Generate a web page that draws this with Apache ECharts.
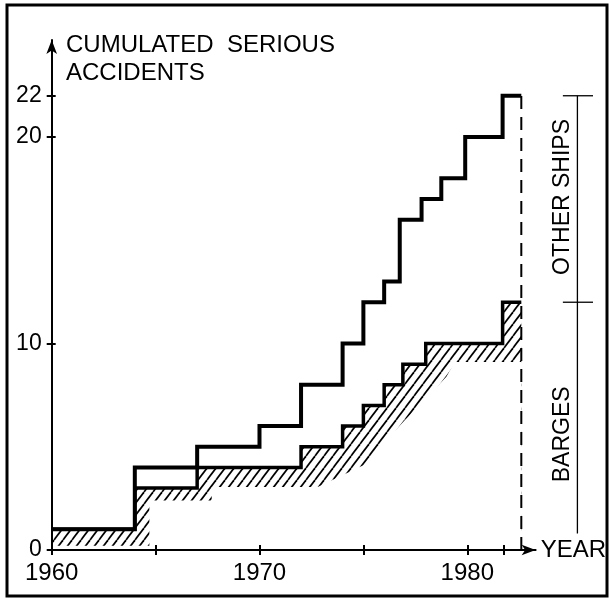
<!DOCTYPE html>
<html><head><meta charset="utf-8">
<script src="https://cdn.jsdelivr.net/npm/echarts@6/dist/echarts.min.js"></script>
<style>html,body{margin:0;padding:0;background:#fff}#c{width:609px;height:599px}</style>
</head><body><div id="c"></div>
<script>
// ---- data ----
const totalYears  = [1960, 1964, 1967, 1970, 1972, 1974, 1975, 1976, 1976.75, 1977.8, 1978.75, 1979.9, 1981.7, 1982.6];
const totalValues = [1, 4, 5, 6, 8, 10, 12, 13, 16, 17, 18, 20, 22, 22];
const bargeYears  = [1960, 1964, 1967, 1972, 1974, 1975, 1976, 1976.9, 1978, 1981.7, 1982.6];
const bargeValues = [1, 3, 4, 5, 6, 7, 8, 9, 10, 12, 12];
// lower edge of the hatched band under the barges line
const hatchLowerYears  = [1960, 1964.7, 1964.7, 1967.7, 1967.7, 1972.8, 1975, 1976, 1977, 1978, 1979, 1979.4, 1982.6];
const hatchLowerValues = [0.2, 0.2, 2.4, 2.4, 3.05, 3.05, 4.1, 5.2, 6.3, 7.3, 8.4, 9.1, 9.1];
const xTickValues  = [1960, 1965, 1970, 1975, 1980, 1981.75];
const xLabelValues = [1960, 1970, 1980];
const yTickValues  = [0, 10, 20, 22];
const endYear = 1982.6;          // dashed vertical line
const otherShipsRange = [12, 22];
const bargesRange = [0.8, 12];
const bracketLabels = ['OTHER SHIPS', 'BARGES'];

// ---- layout ----
const X_MIN = 1960, X_MAX = 1983.29, Y_MAX = 24.7;
const BRACKET_X = 1985.3, BRACKET_T0 = 1984.6, BRACKET_T1 = 1986.05, LABEL_X = 1984.6;
const FONT = "'Liberation Sans', Arial, Helvetica, sans-serif";

const pair = (xs, ys) => xs.map((x, i) => [x, ys[i]]);

// hatch pattern
const pc = document.createElement('canvas');
pc.width = 9; pc.height = 12;
const g = pc.getContext('2d');
g.strokeStyle = '#000'; g.lineWidth = 1.7;
for (let k = -1; k <= 1; k++) {
  g.beginPath(); g.moveTo(k * 9, 12); g.lineTo(k * 9 + 9, 0); g.stroke();
}

const chart = echarts.init(document.getElementById('c'));
const axisCommon = (inside) => ({
  type: 'value', z: 6,
  splitLine: { show: false },
  axisTick: { show: true, inside: inside, length: 5, lineStyle: { color: '#000', width: 2 } },
});

const option = {
  animation: false,
  backgroundColor: '#fff',
  title: {
    text: 'CUMULATED  SERIOUS\nACCIDENTS', left: 61, top: 26,
    textStyle: { fontSize: 24, fontWeight: 'normal', color: '#000', lineHeight: 28, fontFamily: FONT }
  },
  grid: { left: 51.7, right: 71, top: 40, bottom: 49 },
  xAxis: [
    Object.assign(axisCommon(false), {
      min: X_MIN, max: X_MAX, position: 'bottom',
      axisLine: { show: true, onZero: false, symbol: ['none', 'arrow'], symbolSize: [8, 14], lineStyle: { color: '#000', width: 2 } },
      axisTick: { show: true, customValues: xTickValues, length: 5, lineStyle: { color: '#000', width: 2 } },
      axisLabel: { customValues: xLabelValues, formatter: v => String(v), fontSize: 24, color: '#000', margin: 11, fontFamily: FONT },
      name: 'YEAR', nameLocation: 'end', nameGap: 5,
      nameTextStyle: { fontSize: 24, color: '#000', fontFamily: FONT, align: 'left', verticalAlign: 'middle' }
    }),
    Object.assign(axisCommon(true), {
      min: X_MIN, max: X_MAX, position: 'bottom',
      axisLine: { show: false },
      axisTick: { show: true, inside: true, customValues: xTickValues, length: 5, lineStyle: { color: '#000', width: 2 } },
      axisLabel: { show: false }
    })
  ],
  yAxis: [
    Object.assign(axisCommon(false), {
      min: 0, max: Y_MAX, position: 'left',
      axisLine: { show: true, onZero: false, symbol: ['none', 'arrow'], symbolSize: [8, 14], lineStyle: { color: '#000', width: 2 } },
      axisTick: { show: true, customValues: yTickValues, length: 5, lineStyle: { color: '#000', width: 2 } },
      axisLabel: { customValues: yTickValues, formatter: v => String(v), fontSize: 23, color: '#000', margin: 10, fontFamily: FONT }
    }),
    Object.assign(axisCommon(true), {
      min: 0, max: Y_MAX, position: 'left',
      axisLine: { show: false },
      axisTick: { show: true, inside: true, customValues: yTickValues, length: 4, lineStyle: { color: '#000', width: 2 } },
      axisLabel: { show: false }
    })
  ],
  series: [
    { name: 'hatch', type: 'line', step: 'end', data: pair(bargeYears, bargeValues), symbol: 'none', z: 1,
      lineStyle: { width: 0, opacity: 0 }, areaStyle: { color: { image: pc, repeat: 'repeat' }, opacity: 1 }, silent: true },
    { name: 'cover', type: 'line', data: pair(hatchLowerYears, hatchLowerValues), symbol: 'none', z: 2,
      lineStyle: { width: 0, opacity: 0 }, areaStyle: { color: '#fff', opacity: 1 }, silent: true },
    { name: 'Barges', type: 'line', step: 'end', data: pair(bargeYears, bargeValues), symbol: 'none', z: 3,
      lineStyle: { color: '#000', width: 3.5, join: 'miter' } },
    { name: 'All ships', type: 'line', step: 'end', data: pair(totalYears, totalValues), symbol: 'none', z: 4,
      lineStyle: { color: '#000', width: 4, join: 'miter' } },
    { name: 'end', type: 'line', data: [[endYear, 0], [endYear, totalValues[totalValues.length - 1]]], symbol: 'none', z: 4,
      lineStyle: { color: '#000', width: 2, type: [13, 8] } }
  ],
  graphic: [
    { type: 'rect', shape: { x: 7, y: 5, width: 600, height: 591 }, style: { fill: 'none', stroke: '#000', lineWidth: 3 }, z: 10, silent: true }
  ]
};
chart.setOption(option);

// bracket annotation on the right, positioned through the chart's own scales
const px = (x, y) => chart.convertToPixel({ gridIndex: 0 }, [x, y]);
const seg = (a, b) => ({ type: 'line', shape: { x1: a[0], y1: a[1], x2: b[0], y2: b[1] },
  style: { stroke: '#000', lineWidth: 1.3 }, z: 10, silent: true });
const label = (text, p) => ({ type: 'text', x: p[0], y: p[1], rotation: Math.PI / 2, z: 10, silent: true,
  style: { text: text, fill: '#000', font: '23px ' + FONT, align: 'center', verticalAlign: 'middle' } });
const extra = [
  seg(px(BRACKET_X, otherShipsRange[1]), px(BRACKET_X, bargesRange[0])),
  seg(px(BRACKET_T0, otherShipsRange[1]), px(BRACKET_T1, otherShipsRange[1])),
  seg(px(BRACKET_T0, otherShipsRange[0]), px(BRACKET_T1, otherShipsRange[0])),
  label(bracketLabels[0], px(LABEL_X, (otherShipsRange[0] + otherShipsRange[1]) / 2 + 0.1)),
  label(bracketLabels[1], px(LABEL_X, 5.6))
];
chart.setOption({ graphic: option.graphic.concat(extra) });
</script></body></html>
